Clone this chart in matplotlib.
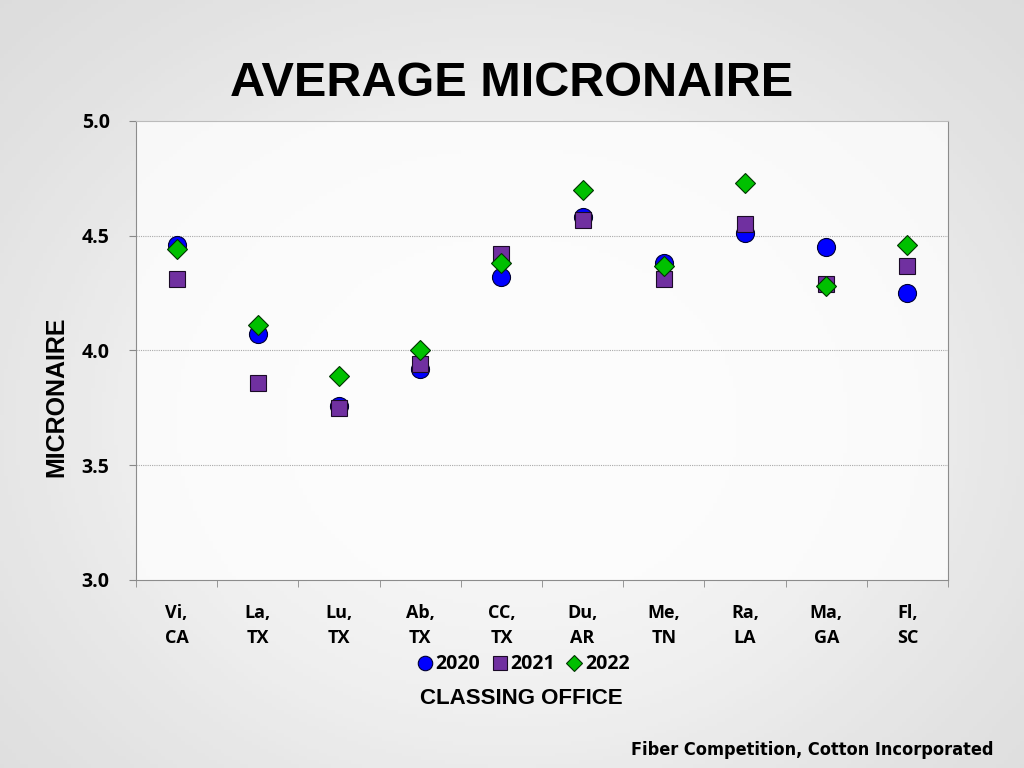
import numpy as np
import matplotlib
matplotlib.use("Agg")
import matplotlib.pyplot as plt

# classing offices (two-line labels) and yearly average micronaire
offices = ["Vi,\nCA", "La,\nTX", "Lu,\nTX", "Ab,\nTX", "CC,\nTX",
           "Du,\nAR", "Me,\nTN", "Ra,\nLA", "Ma,\nGA", "Fl,\nSC"]
mic_2020 = [4.46, 4.07, 3.76, 3.92, 4.32, 4.58, 4.38, 4.51, 4.45, 4.25]
mic_2021 = [4.31, 3.86, 3.75, 3.94, 4.42, 4.57, 4.31, 4.55, 4.29, 4.37]
mic_2022 = [4.44, 4.11, 3.89, 4.00, 4.38, 4.70, 4.37, 4.73, 4.28, 4.46]
y_ticks = [3.0, 3.5, 4.0, 4.5, 5.0]

fig = plt.figure(figsize=(10.24, 7.68), dpi=100)
fig.patch.set_facecolor("#e6e6e6")

# soft grey backdrop, lighter toward the middle
bg = fig.add_axes([0, 0, 1, 1], zorder=-10)
yy, xx = np.mgrid[0:1:200j, 0:1:260j]
shade = np.exp(-(((xx - 0.5) / 0.55) ** 2 + ((yy - 0.55) / 0.6) ** 2))
bg.imshow(shade, cmap="Greys_r", vmin=-3.5, vmax=1.3, aspect="auto",
          extent=[0, 1, 0, 1])
bg.axis("off")

ax = fig.add_axes([0.1328, 0.2448, 0.793, 0.5977])
ax.set_facecolor((1, 1, 1, 0.75))

x = np.arange(len(offices))
ax.plot(x, mic_2020, ls="none", marker="o", ms=13, mfc="#0000ff",
        mec="#000033", mew=0.8, label="2020", zorder=3)
ax.plot(x, mic_2021, ls="none", marker="s", ms=12, mfc="#7030a0",
        mec="#1a0a26", mew=0.8, label="2021", zorder=4)
ax.plot(x, mic_2022, ls="none", marker="D", ms=10, mfc="#00c000",
        mec="#003300", mew=0.8, label="2022", zorder=5)

ax.set_xlim(-0.5, len(offices) - 0.5)
ax.set_ylim(3.0, 5.0)
ax.set_yticks(y_ticks)
ax.set_yticklabels([f"{v:.1f}" for v in y_ticks], fontsize=14,
                   fontweight="bold", family="Open Sans")
ax.set_xticks(x)
ax.set_xticklabels(offices, fontsize=13, fontweight="bold", family="Open Sans",
                   linespacing=1.55)
ax.set_xticks(np.arange(-0.5, len(offices), 1.0), minor=True)
ax.tick_params(axis="x", which="major", length=0, pad=17)
ax.tick_params(axis="x", which="minor", length=5, color="#888888")
ax.tick_params(axis="y", length=5, color="#888888", pad=14)

for yv in y_ticks[1:-1]:
    ax.axhline(yv, color="#aaaaaa", lw=0.8, ls=(0, (1, 1)), zorder=1)
for side in ["left", "right", "top", "bottom"]:
    ax.spines[side].set_color("#8c8c8c")
ax.spines["top"].set_color("#bbbbbb")

ax.set_ylabel("MICRONAIRE", fontsize=18, fontweight="bold",
              family="Liberation Sans")
ax.yaxis.set_label_coords(-0.083, 0.40)

fig.text(0.5, 0.891, "AVERAGE MICRONAIRE", ha="center", va="center",
         fontsize=35, fontweight="bold", family="Liberation Sans")
fig.text(0.5095, 0.091, "CLASSING OFFICE", ha="center", va="center",
         fontsize=16, fontweight="bold", family="Liberation Sans")

leg = fig.legend(loc="center", bbox_to_anchor=(0.51, 0.135), ncol=3,
                 frameon=False, handletextpad=0.05, columnspacing=0.5,
                 handlelength=1.0, markerscale=0.8,
                 prop={"size": 14, "weight": "bold", "family": "Open Sans"})

fig.text(0.97, 0.023, "Fiber Competition, Cotton Incorporated", ha="right",
         va="center", fontsize=13, fontweight="bold",
         family="DejaVu Sans", fontstretch="condensed")

fig.savefig("out.png", dpi=100)
